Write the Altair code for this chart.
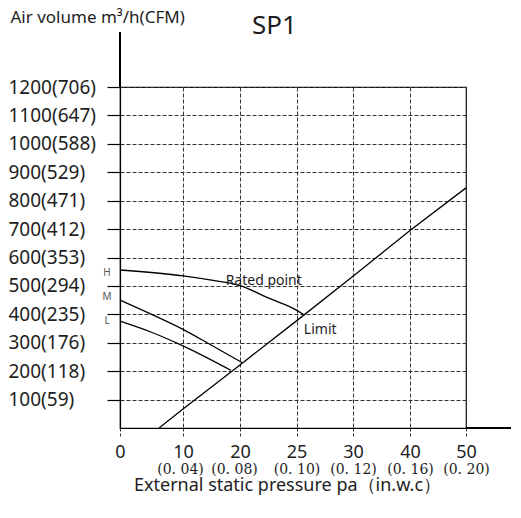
import altair as alt
import pandas as pd

# ---- data ----
pressure_ticks = [0, 10, 20, 25, 30, 40, 50]
inwc_labels = ["", "(0. 04)", "(0. 08)", "(0. 10)", "(0. 12)", "(0. 16)", "(0. 20)"]
airflow_ticks = [100, 200, 300, 400, 500, 600, 700, 800, 900, 1000, 1100, 1200]
cfm_values = [59, 118, 176, 235, 294, 353, 412, 471, 529, 588, 647, 706]

h_pressure = [0, 10, 15, 20, 22.6, 25, 25.6]
h_airflow = [556, 535, 520, 501, 456, 415, 400]
m_pressure = [0, 5, 10, 15, 20.2]
m_airflow = [450, 400, 347, 291, 230]
l_pressure = [0, 5, 10, 18.4]
l_airflow = [376, 337, 289, 203]
limit_pressure = [6.2, 10, 20, 25, 30, 40, 50]
limit_airflow = [0, 67, 222, 377, 534, 695, 845]

speed_names = ["H", "M", "L"]
speed_label_airflow = [545, 461, 376]

notes = ["Rated point", "Limit"]
notes_pressure = [22.1, 27.1]
notes_airflow = [517, 345]

# ---- tables ----
curves = pd.concat([
    pd.DataFrame({"series": "H", "p": h_pressure, "v": h_airflow}),
    pd.DataFrame({"series": "M", "p": m_pressure, "v": m_airflow}),
    pd.DataFrame({"series": "L", "p": l_pressure, "v": l_airflow}),
])
limit = pd.DataFrame({"p": limit_pressure, "v": limit_airflow})
speed_df = pd.DataFrame({"name": speed_names, "p": [0] * 3, "v": speed_label_airflow})
notes_df = pd.DataFrame({"text": notes, "p": notes_pressure, "v": notes_airflow})

FONT = "Noto Sans"
INK = "#1e1e1e"

x_scale = alt.Scale(domain=pressure_ticks, range=[0, 63, 120, 176.5, 233, 290, 346], nice=False, zero=False)
y_scale = alt.Scale(domain=[0, 1200], nice=False, zero=False)

y_label_expr = "[" + ",".join(f"'{a}({c})'" for a, c in zip(airflow_ticks, cfm_values)) + "][round(datum.value/100)-1]"
x2_label_expr = ("[" + ",".join(f"'{s}'" for s in inwc_labels) + "][indexof(["
                 + ",".join(str(v) for v in pressure_ticks) + "], datum.value)]")

y_axis = alt.Axis(
    values=airflow_ticks, labelExpr=y_label_expr, labelAlign="left", labelPadding=99,
    labelBaseline="middle", labelFont=FONT, labelFontSize=19, labelColor=INK,
    tickSize=13, tickColor="black", tickWidth=1.2,
    domainColor="black", domainWidth=1.2,
    grid=True, gridColor="#333", gridDash=[4, 2], gridWidth=1,
    title="Air volume m³/h(CFM)", titleAngle=0, titleX=-110, titleY=-70,
    titleAlign="left", titleBaseline="middle", titleFont=FONT, titleFontSize=17,
    titleFontWeight="normal", titleColor=INK, labelOverlap=False, labelFlush=False,
)
Y = alt.Y("v:Q", scale=y_scale, axis=y_axis)

x_axis_main = alt.Axis(
    orient="bottom",
    values=pressure_ticks, labelFont=FONT, labelFontSize=18, labelColor=INK,
    labelBaseline="middle", labelPadding=14, tickSize=10, tickColor="#333", tickDash=[3, 2],
    domainColor="black", domainWidth=1.2,
    grid=True, gridColor="#333", gridDash=[4, 2], gridWidth=1,
    title=None, labelFlush=False, labelOverlap=False,
)
x_axis_inwc = alt.Axis(
    orient="bottom",
    values=pressure_ticks, labelExpr=x2_label_expr, labelFont="DejaVu Serif", labelFontSize=14,
    labelColor=INK, labelBaseline="middle", labelPadding=41, ticks=False, tickSize=0,
    labelOffset={"condition": [{"test": "datum.value == 10", "value": -3},
                               {"test": "datum.value == 20", "value": -6}], "value": 0},
    domain=False, grid=False, labelFlush=False, labelOverlap=False,
    title="External static pressure pa（in.w.c）", titleFont=FONT, titleFontSize=18,
    titleFontWeight="normal", titleColor=INK, titleX=167, titleY=57,
    titleAlign="center", titleBaseline="middle",
)

limit_layer = alt.Chart(limit).mark_line(color="black", strokeWidth=1.3).encode(
    x=alt.X("p:Q", scale=x_scale, axis=x_axis_main), y=Y
)
curve_layer = alt.Chart(curves).mark_line(color="black", strokeWidth=1.3, interpolate="monotone").encode(
    x=alt.X("p:Q", scale=x_scale, axis=None), y=Y, detail="series:N"
)
speed_layer = alt.Chart(speed_df).mark_text(
    font=FONT, fontSize=10, color="#555", dx=-13, align="center", baseline="middle"
).encode(x=alt.X("p:Q", scale=x_scale, axis=x_axis_inwc), y=Y, text="name:N")
notes_layer = alt.Chart(notes_df).mark_text(
    font=FONT, fontSize=14, color=INK, align="center", baseline="middle"
).encode(x=alt.X("p:Q", scale=x_scale, axis=None), y=Y, text="text:N")

left_ext = alt.Chart(limit).mark_rule(color="black", strokeWidth=1.2).encode(
    x=alt.value(0), y=alt.value(-55), y2=alt.value(0)
)
bottom_ext = alt.Chart(limit).mark_rule(color="black", strokeWidth=1.2).encode(
    x=alt.value(346), x2=alt.value(400), y=alt.value(341)
)

chart = alt.layer(
    limit_layer, curve_layer, speed_layer, notes_layer, left_ext, bottom_ext
).resolve_axis(x="independent").properties(
    width=346, height=341,
    title=alt.TitleParams("SP1", font=FONT, fontSize=26, fontWeight="normal", color=INK,
                          anchor="start", frame="group", dx=132, offset=0, dy=52,
                          baseline="alphabetic"),
    padding={"left": 112, "top": 79, "right": 45, "bottom": 80},
    autosize=alt.AutoSizeParams(type="none"),
).configure_view(stroke="black", strokeWidth=1.2)

chart.save("out.html", embed_options={"renderer": "svg", "actions": False})
